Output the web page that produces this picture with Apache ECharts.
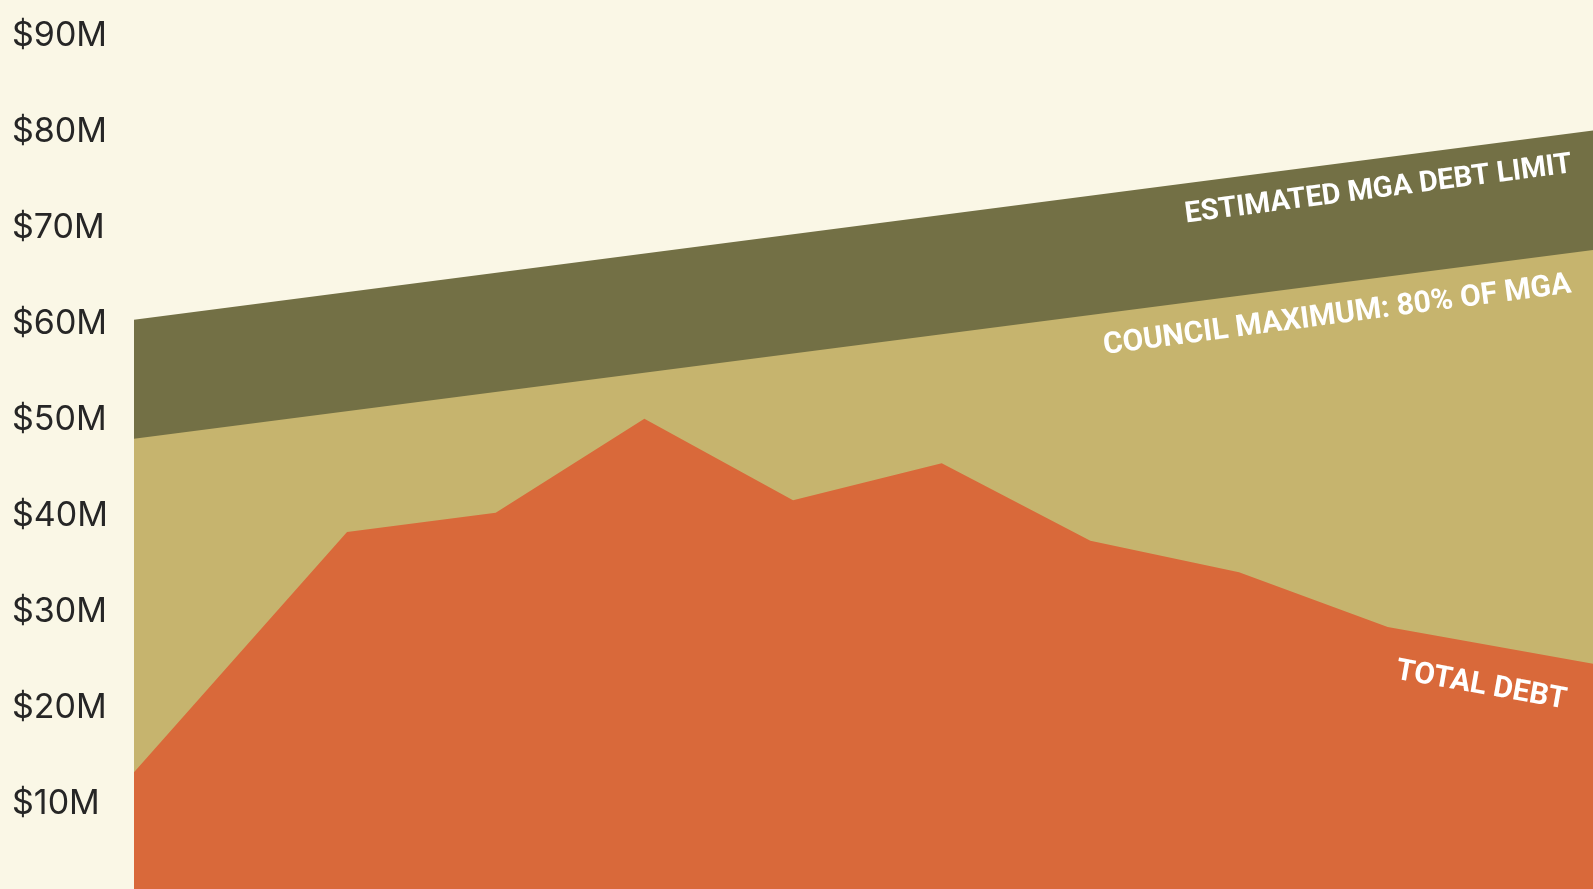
<!DOCTYPE html>
<html>
<head>
<meta charset="utf-8">
<style>
  html, body { margin: 0; padding: 0; background: #faf7e6; }
  #chart { width: 1593px; height: 889px; }
</style>
<script src="https://cdn.jsdelivr.net/npm/echarts@6/dist/echarts.min.js"></script>
</head>
<body>
<div id="chart"></div>
<script>
// ---- Data (values in $ millions; x = year) ----
const xRange = [2018.567, 2028.381];
const yRange = [0.74, 90];          // the zero line sits just below the picture
const yTicks = [10, 20, 30, 40, 50, 60, 70, 80, 90];

const mgaX = [2018.567, 2028.381];
const mgaLimit = [60.0, 79.7];

const councilX = [2018.567, 2028.381];
const councilMax = [47.6, 67.25];

const debtX = [2018.567, 2020, 2021, 2022, 2023, 2024, 2025, 2026, 2027, 2028.381];
const totalDebt = [12.9, 37.9, 39.9, 49.7, 41.2, 45.05, 37.0, 33.7, 28.0, 24.2];

const labels = {
  mga: 'ESTIMATED MGA DEBT LIMIT',
  council: 'COUNCIL MAXIMUM: 80% OF MGA',
  debt: 'TOTAL DEBT'
};

const pair = (xs, ys) => xs.map((x, i) => [x, ys[i]]);

const chart = echarts.init(document.getElementById('chart'), null, { renderer: 'canvas' });

const areaSeries = (name, data, color) => ({
  name: name,
  type: 'line',
  data: data,
  symbol: 'none',
  lineStyle: { width: 0 },
  areaStyle: { color: color, opacity: 1 },
  silent: true,
  animation: false
});

const annFont = 'Roboto, "Liberation Sans", sans-serif';
const deg = Math.PI / 180;

chart.setOption({
  backgroundColor: '#faf7e6',
  animation: false,
  grid: { left: 134, right: 0, top: 31.5, bottom: 0, containLabel: false },
  xAxis: {
    type: 'value',
    min: xRange[0],
    max: xRange[1],
    show: false
  },
  yAxis: {
    type: 'value',
    min: yRange[0],
    max: yRange[1],
    axisLine: { show: false },
    axisTick: { show: false },
    splitLine: { show: false },
    axisLabel: {
      customValues: yTicks,
      align: 'left',
      verticalAlign: 'top',
      lineHeight: 8,
      margin: 122,
      color: '#262626',
      fontFamily: 'Inter, "Liberation Sans", sans-serif',
      fontSize: 34,
      formatter: v => '$' + v + 'M'
    }
  },
  series: [
    areaSeries('Estimated MGA debt limit', pair(mgaX, mgaLimit), '#737045'),
    areaSeries('Council maximum', pair(councilX, councilMax), '#c6b46e'),
    areaSeries('Total debt', pair(debtX, totalDebt), '#d9693a')
  ],
  graphic: [
    {
      type: 'text', x: 1572, y: 165, rotation: 7.4 * deg, z: 100,
      style: { text: labels.mga, fill: '#ffffff', font: '700 29px ' + annFont, align: 'right', verticalAlign: 'middle' },
      silent: true
    },
    {
      type: 'text', x: 1571, y: 285, rotation: 7.5 * deg, z: 100,
      style: { text: labels.council, fill: '#ffffff', font: '700 30px ' + annFont, align: 'right', verticalAlign: 'middle' },
      silent: true
    },
    {
      type: 'text', x: 1566, y: 701, rotation: -10 * deg, z: 100,
      style: { text: labels.debt, fill: '#ffffff', font: '700 30px ' + annFont, align: 'right', verticalAlign: 'middle' },
      silent: true
    }
  ]
});
</script>
</body>
</html>
